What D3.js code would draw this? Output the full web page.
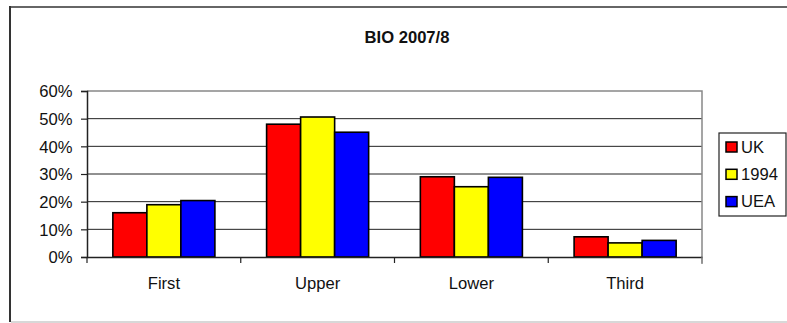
<!DOCTYPE html>
<html>
<head>
<meta charset="utf-8">
<script src="https://cdn.jsdelivr.net/npm/d3@7"></script>
<style>
  body { margin: 0; background: #fff; }
  svg { display: block; font-family: Arial, "Liberation Sans", sans-serif; }
</style>
</head>
<body>
<div class="chartDiv"></div>
<script>
// BIO 2007/8 grouped bars

let categories = ["First", "Upper", "Lower", "Third"];
let seriesNames = ["UK", "1994", "UEA"];
let seriesColors = ["#ff0000", "#ffff00", "#0000ff"];
let ukValues = [0.16, 0.48, 0.29, 0.073];
let n1994Values = [0.189, 0.506, 0.254, 0.051];
let ueaValues = [0.204, 0.451, 0.288, 0.060];
let yTicks = [0, 0.1, 0.2, 0.3, 0.4, 0.5, 0.6];

let allValues = [ukValues, n1994Values, ueaValues];

let svgWidth = 787;
let svgHeight = 323;
let fontSize = '16.6px';

let margin = { top: 91, left: 87, right: 85, bottom: 66 };
let graphWidth = svgWidth - margin.left - margin.right;
let graphHeight = svgHeight - margin.top - margin.bottom;

let svg = d3.select('.chartDiv')
  .append('svg')
  .attr('width', svgWidth)
  .attr('height', svgHeight);

// outer chart frame (cropped at right)
svg.append('line').attr('x1', 10).attr('x2', svgWidth).attr('y1', 7).attr('y2', 7)
  .attr('stroke', '#333').attr('stroke-width', 1.5);
svg.append('line').attr('x1', 10).attr('x2', 10).attr('y1', 6).attr('y2', 322)
  .attr('stroke', '#333').attr('stroke-width', 2);
svg.append('line').attr('x1', 11).attr('x2', svgWidth).attr('y1', 322).attr('y2', 322)
  .attr('stroke', '#d8d8d8').attr('stroke-width', 2);

svg.append('text')
  .attr('x', 407).attr('y', 42.5)
  .attr('text-anchor', 'middle')
  .style('font-weight', 'bold')
  .style('font-size', fontSize)
  .attr('fill', '#111')
  .text('BIO 2007/8');

let chartGroup = svg.append('g')
  .attr('transform', `translate(${margin.left}, ${margin.top})`);

let xScale = d3.scaleBand().domain(categories).range([0, graphWidth]);
let xInner = d3.scaleBand().domain(seriesNames).range([0, xScale.bandwidth()])
  .paddingInner(0).paddingOuter(0.76);
let yScale = d3.scaleLinear().domain([0, 0.6]).range([graphHeight, 0]);

// gridlines
chartGroup.append('g').selectAll('line')
  .data(yTicks.filter(t => t > 0 && t < 0.6))
  .enter().append('line')
  .attr('x1', 0).attr('x2', graphWidth)
  .attr('y1', d => yScale(d)).attr('y2', d => yScale(d))
  .attr('stroke', '#222').attr('stroke-width', 1);

// plot frame top/right
chartGroup.append('path')
  .attr('d', `M0,${yScale(0.6)}H${graphWidth}V${graphHeight + 7}`)
  .attr('fill', 'none').attr('stroke', '#888').attr('stroke-width', 1.5);

// bars
let groups = chartGroup.selectAll('.grp')
  .data(categories)
  .enter().append('g')
  .attr('transform', d => `translate(${xScale(d)},0)`);

groups.selectAll('rect')
  .data((c, ci) => seriesNames.map((s, si) => ({ s: s, v: allValues[si][ci], color: seriesColors[si] })))
  .enter().append('rect')
  .attr('x', d => xInner(d.s))
  .attr('width', xInner.bandwidth())
  .attr('y', d => yScale(d.v))
  .attr('height', d => yScale(0) - yScale(d.v))
  .attr('fill', d => d.color)
  .attr('stroke', '#000').attr('stroke-width', 1.6);

// axes
let leftAxis = d3.axisLeft(yScale).tickValues(yTicks).tickFormat(d3.format('.0%')).tickSizeOuter(0).tickSize(6);
let yAxisG = chartGroup.append('g').call(leftAxis);
yAxisG.select('.domain').attr('stroke', '#222').attr('stroke-width', 1.5);
yAxisG.selectAll('.tick line').attr('stroke', '#222').attr('stroke-width', 1.2);
yAxisG.selectAll('.tick text')
  .attr('x', -14.5)
  .attr('dy', '0.36em')
  .style('font-size', fontSize)
  .style('font-family', 'Arial, "Liberation Sans", sans-serif')
  .attr('fill', '#111');

let bottomAxis = d3.axisBottom(xScale).tickSize(0).tickSizeOuter(0);
let xAxisG = chartGroup.append('g')
  .attr('transform', `translate(0, ${graphHeight})`)
  .call(bottomAxis);
xAxisG.select('.domain').attr('stroke', '#222').attr('stroke-width', 1.5);
xAxisG.selectAll('.tick text')
  .attr('y', 32)
  .attr('dy', 0)
  .style('font-size', fontSize)
  .style('font-family', 'Arial, "Liberation Sans", sans-serif')
  .attr('fill', '#111');

// category separator ticks
let boundaries = categories.map(c => xScale(c)).concat([graphWidth]);
chartGroup.append('g').selectAll('line')
  .data(boundaries)
  .enter().append('line')
  .attr('x1', d => d).attr('x2', d => d)
  .attr('y1', graphHeight).attr('y2', graphHeight + 6)
  .attr('stroke', d => d === graphWidth ? '#888' : '#222').attr('stroke-width', 1.2);

// legend
let legend = svg.append('g').attr('transform', 'translate(719, 133)');
legend.append('rect')
  .attr('x', 0).attr('y', 0).attr('width', 67).attr('height', 83)
  .attr('fill', '#fff').attr('stroke', '#222').attr('stroke-width', 1.2);

let legendRows = legend.selectAll('.row')
  .data(seriesNames)
  .enter().append('g')
  .attr('transform', (d, i) => `translate(0, ${9 + i * 27.3})`);

legendRows.append('rect')
  .attr('x', 7).attr('y', 0).attr('width', 11).attr('height', 10)
  .attr('fill', (d, i) => seriesColors[i])
  .attr('stroke', '#000').attr('stroke-width', 1.5);

legendRows.append('text')
  .attr('x', 22).attr('y', 10.5)
  .style('font-size', fontSize)
  .attr('fill', '#111')
  .text(d => d);
</script>
</body>
</html>
